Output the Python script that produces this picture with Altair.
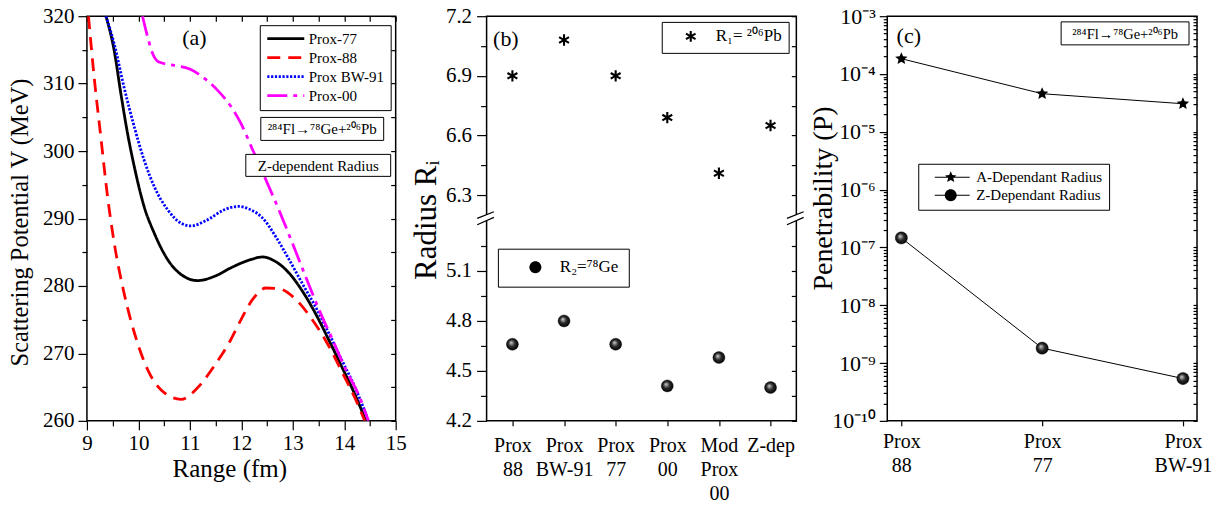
import json
import math
import altair as alt
import pandas as pd

FONT = "Liberation Serif"

# ---------------- data: panel (a) ----------------
series_a = ["Prox-77", "Prox-88", "Prox BW-91", "Prox-00"]
colors_a = ["black", "#ff0000", "#0000ff", "#ff00ff"]
dashes_a = [[1, 0], [13, 8], [2.2, 1.6], [20, 6, 4, 6]]

r_p77 = [9.37, 9.53, 9.66, 9.79, 9.92, 10.11, 10.31, 10.57, 10.83, 11.15, 11.47, 11.80,
         12.00, 12.22, 12.41, 12.67, 12.93, 13.19, 13.45, 13.70, 13.96, 14.22, 14.42]
v_p77 = [320, 314.9, 308.5, 302.6, 297.7, 291.8, 287.8, 283.9, 281.7, 280.8, 281.4, 282.7,
         283.4, 284.0, 284.3, 283.6, 281.9, 279.2, 275.8, 272.0, 267.9, 263.7, 260.0]

r_p88 = [9.03, 9.14, 9.27, 9.40, 9.53, 9.72, 9.92, 10.18, 10.50, 10.83, 11.15, 11.47,
         11.80, 11.98, 12.22, 12.48, 12.73, 13.06, 13.38, 13.70, 13.96, 14.22, 14.40]
v_p88 = [320, 311.0, 302.1, 293.3, 286.4, 279.0, 273.1, 267.6, 264.2, 263.2, 264.9, 268.1,
         272.1, 274.8, 278.0, 279.7, 279.6, 278.0, 275.0, 271.1, 267.2, 263.2, 260.0]

r_bw91 = [9.37, 9.53, 9.72, 9.92, 10.11, 10.31, 10.57, 10.83, 11.02, 11.34, 11.67, 11.95,
          12.15, 12.41, 12.67, 12.93, 13.19, 13.45, 13.70, 13.96, 14.22, 14.47]
v_bw91 = [320, 315.9, 309.5, 303.6, 298.7, 294.7, 291.3, 289.3, 288.9, 289.8, 291.3, 291.8,
          291.4, 290.1, 287.3, 283.9, 280.3, 276.8, 273.0, 268.9, 264.8, 260.0]

r_p00 = [10.08, 10.18, 10.28, 10.40, 10.70, 11.02, 11.21, 11.54, 11.80, 11.98, 12.22, 12.48,
         12.73, 12.99, 13.25, 13.51, 13.77, 14.03, 14.29, 14.47]
v_p00 = [320, 316.9, 314.4, 313.2, 312.7, 312.1, 311.2, 309.0, 306.6, 304.3, 300.2, 295.7,
         291.3, 286.4, 281.4, 276.5, 272.1, 267.6, 263.7, 260.0]

a_x_major = [9, 10, 11, 12, 13, 14, 15]
a_x_minor = [9.5, 10.5, 11.5, 12.5, 13.5, 14.5]
a_y_major = [260, 270, 280, 290, 300, 310, 320]
a_y_minor = [265, 275, 285, 295, 305, 315]
notes_a = ["²⁸⁴Fl→⁷⁸Ge+²⁰⁶Pb", "Z-dependent Radius"]
x_title_a = "Range (fm)"

# ---------------- data: panel (b) ----------------
methods_b = ["Prox|88", "Prox|BW-91", "Prox|77", "Prox|00", "Mod|Prox|00", "Z-dep"]
radius_pb = [6.90, 7.08, 6.90, 6.69, 6.41, 6.65]
radius_ge = [4.66, 4.80, 4.66, 4.41, 4.58, 4.40]
label_pb = "R₁= ²⁰⁶Pb"
label_ge = "R₂=⁷⁸Ge"
b_up_major = [6.3, 6.6, 6.9, 7.2]
b_up_minor = [6.45, 6.75, 7.05]
b_lo_major = [4.2, 4.5, 4.8, 5.1]
b_lo_minor = [4.35, 4.65, 4.95, 5.25]
b_lower_range = [4.2, 5.4]      # lower segment of the broken axis
b_upper_range = [6.2, 7.2]      # upper segment of the broken axis

# ---------------- data: panel (c) ----------------
methods_c = ["Prox|88", "Prox|77", "Prox|BW-91"]
pen_A = [1.84e-4, 4.56e-5, 3.06e-5]
pen_Z = [1.46e-7, 1.81e-9, 5.4e-10]
kinds_c = ["A-Dependant Radius", "Z-Dependant Radius"]
c_exponents = [-10, -9, -8, -7, -6, -5, -4, -3]
c_labels = ["10⁻¹⁰", "10⁻⁹", "10⁻⁸", "10⁻⁷", "10⁻⁶", "10⁻⁵", "10⁻⁴", "10⁻³"]
c_major = [10.0 ** e for e in c_exponents]
c_minor = [k * 10.0 ** e for e in c_exponents[:-1] for k in range(2, 10)]
note_c = "²⁸⁴Fl→⁷⁸Ge+²⁰⁶Pb"
panel_tags = ["(a)", "(b)", "(c)"]

# ---------------- geometry ----------------
W_A, W_B, W_C = 309, 310, 310
H = 405
LO_PX, GAP_PX, UP_PX = 200, 6, 199   # broken-axis segment heights (b)


# ---------------- broken axis mapping for (b) ----------------
def b_pos(v):
    lo0, lo1 = b_lower_range
    up0, up1 = b_upper_range
    if v < (lo1 + up0) / 2:
        return (v - lo0) / (lo1 - lo0) * LO_PX
    return LO_PX + GAP_PX + (v - up0) / (up1 - up0) * UP_PX


POS_EXPR = (
    f"datum.R < {(b_lower_range[1] + b_upper_range[0]) / 2} ? "
    f"(datum.R - {b_lower_range[0]}) / {b_lower_range[1] - b_lower_range[0]} * {LO_PX} : "
    f"{LO_PX + GAP_PX} + (datum.R - {b_upper_range[0]}) / {b_upper_range[1] - b_upper_range[0]} * {UP_PX}"
)
LABEL_EXPR_B = (
    f"datum.value > {LO_PX + GAP_PX / 2} ? "
    f"format((datum.value - {LO_PX + GAP_PX}) / {UP_PX} * {b_upper_range[1] - b_upper_range[0]} + {b_upper_range[0]}, '.1f') : "
    f"format(datum.value / {LO_PX} * {b_lower_range[1] - b_lower_range[0]} + {b_lower_range[0]}, '.1f')"
)


# ---------------- symbol paths ----------------
def star_path(cx=0.0, R=1.0, r=0.45):
    pts = []
    for i in range(10):
        ang = math.radians(-90 + 36 * i)
        rad = R if i % 2 == 0 else r
        pts.append((cx + rad * math.cos(ang), rad * math.sin(ang)))
    return "M" + "L".join(f"{x:.3f},{y:.3f}" for x, y in pts) + "Z"


def circle_path(cx=0.0):
    return f"M{cx-1:.3f},0A1,1 0 1,1 {cx+1:.3f},0A1,1 0 1,1 {cx-1:.3f},0Z"


def asterisk_path(cx=0.0):
    return (f"M{cx:.3f},-1L{cx:.3f},1M{cx-0.87:.3f},-0.5L{cx+0.87:.3f},0.5"
            f"M{cx-0.87:.3f},0.5L{cx+0.87:.3f},-0.5")


def bar_path(x0, x1, h=0.09):
    return f"M{x0},{-h}L{x1},{-h}L{x1},{h}L{x0},{h}Z"


sphere_fill = {
    "gradient": "radial", "x1": 0.38, "y1": 0.35, "r1": 0.0,
    "x2": 0.5, "y2": 0.5, "r2": 0.55,
    "stops": [{"offset": 0.0, "color": "#d8d8d8"},
              {"offset": 0.5, "color": "#2a2a2a"},
              {"offset": 1.0, "color": "#000000"}],
}


def tick_axis(values, orient, size, offset=0, domain=False):
    kw = dict(values=values, orient=orient, tickSize=size, labels=False,
              domain=domain, title=None, grid=False)
    if offset:
        kw["offset"] = offset
    return alt.Axis(**kw)


def value_text(text, x, y, size, align="center", baseline="alphabetic"):
    return alt.Chart(pd.DataFrame({"t": [text]})).mark_text(
        font=FONT, fontSize=size, align=align, baseline=baseline, color="black",
        fontWeight="normal"
    ).encode(text="t:N", x=alt.value(x), y=alt.value(y))


def value_box(x, x2, y, y2, stroke="black"):
    return alt.Chart(pd.DataFrame({"k": [0]})).mark_rect(
        fill="white", stroke=stroke, strokeWidth=1
    ).encode(x=alt.value(x), x2=alt.value(x2), y=alt.value(y), y2=alt.value(y2))


def value_rule(x, x2, y, y2):
    return alt.Chart(pd.DataFrame({"k": [0]})).mark_rule(
        color="black", strokeWidth=1.3
    ).encode(x=alt.value(x), x2=alt.value(x2), y=alt.value(y), y2=alt.value(y2))


# ================= panel (a) =================
rows = []
for name, rs, vs in [("Prox-77", r_p77, v_p77), ("Prox-88", r_p88, v_p88),
                     ("Prox BW-91", r_bw91, v_bw91), ("Prox-00", r_p00, v_p00)]:
    for r, v in zip(rs, vs):
        rows.append({"r": r, "v": v, "series": name})
df_a = pd.DataFrame(rows)

xs_a = alt.Scale(domain=[9, 15], nice=False, zero=False)
ys_a = alt.Scale(domain=[260, 320], nice=False, zero=False)

leg_a = alt.Legend(title=None, orient="none", legendX=173, legendY=9, direction="vertical",
                   symbolType="M-1,0L5.17,0", symbolSize=144, symbolStrokeWidth=2.8,
                   labelFont=FONT, labelFontSize=15, labelColor="black", labelOffset=28,
                   padding=6, rowPadding=3, strokeColor="black", fillColor="white")

lines_a = alt.Chart(df_a).mark_line(interpolate="monotone", strokeWidth=2.8, clip=True).encode(
    x=alt.X("r:Q", scale=xs_a, axis=alt.Axis(
        values=a_x_major, orient="bottom", tickSize=9, labelFontSize=21, labelPadding=3,
        format="d", domain=False, labelFlush=False, labelOverlap=False, title=None)),
    y=alt.Y("v:Q", scale=ys_a, axis=alt.Axis(
        values=a_y_major, orient="left", tickSize=9, labelFontSize=21, labelPadding=4,
        format="d", domain=False, labelFlush=False, labelOverlap=False,
        title="Scattering Potential V (MeV)", titleFontSize=24.5, titleFontWeight="normal",
        titleX=-59, titleY=206, titleAngle=270, titleAlign="center",
        titleBaseline="alphabetic")),
    color=alt.Color("series:N", scale=alt.Scale(domain=series_a, range=colors_a), legend=leg_a),
    strokeDash=alt.StrokeDash("series:N", scale=alt.Scale(domain=series_a, range=dashes_a),
                              legend=leg_a),
)
minor_a = alt.Chart(df_a).mark_point(opacity=0, size=0).encode(
    x=alt.X("r:Q", scale=xs_a, axis=tick_axis(a_x_minor, "bottom", 5)),
    y=alt.Y("v:Q", scale=ys_a, axis=tick_axis(a_y_minor, "left", 5)),
)
inward_a = alt.Chart(df_a).mark_point(opacity=0, size=0).encode(
    x=alt.X("r:Q", scale=xs_a, axis=tick_axis(a_x_major + a_x_minor, "bottom", 5, offset=-H)),
    y=alt.Y("v:Q", scale=ys_a, axis=tick_axis(a_y_major + a_y_minor, "left", 5, offset=-W_A)),
)
panel_a = alt.layer(
    lines_a, minor_a, inward_a,
    value_box(174, 297, 101.3, 124.3), value_text(notes_a[0], 235.5, 118, 15),
    value_box(159, 304, 138.3, 160.3), value_text(notes_a[1], 231.5, 154.5, 15),
    value_text(panel_tags[0], 107.5, 29.3, 22),
    value_text(x_title_a, 143, H + 56, 25),
).resolve_axis(x="independent", y="independent").properties(
    width=W_A, height=H, view=alt.ViewBackground(stroke="black", strokeWidth=1.5))

# ================= panel (b) =================
df_b = pd.DataFrame({
    "method": methods_b * 2,
    "R": radius_pb + radius_ge,
    "nuc": [label_pb] * len(methods_b) + [label_ge] * len(methods_b),
})
xs_b = alt.Scale(type="point", domain=methods_b, padding=0.5)
ys_b = alt.Scale(domain=[0, LO_PX + GAP_PX + UP_PX], nice=False, zero=False)
b_major_pos = [b_pos(v) for v in b_lo_major + b_up_major]
b_minor_pos = [b_pos(v) for v in b_lo_minor + b_up_minor]

base_b = alt.Chart(df_b).transform_calculate(pos=POS_EXPR)

pb_pts = base_b.transform_filter(f"datum.nuc == '{label_pb}'").mark_point(
    shape=asterisk_path(), size=130, filled=False, color="black", strokeWidth=2.1,
    opacity=1).encode(
    x=alt.X("method:N", scale=xs_b, axis=alt.Axis(
        orient="bottom", domain=False, tickSize=5, labelFontSize=20, labelAngle=0,
        labelExpr="split(datum.label, '|')", labelLineHeight=24, labelBaseline="top",
        labelPadding=10, labelOverlap=False, title=None)),
    y=alt.Y("pos:Q", scale=ys_b, axis=alt.Axis(
        values=b_major_pos, orient="left", tickSize=10, labelFontSize=21, labelPadding=5,
        labelExpr=LABEL_EXPR_B, domain=False, labelFlush=False, labelOverlap=False,
        title="Radius Rᵢ", titleFontSize=31, titleFontWeight="normal", titleX=-51,
        titleY=203.7, titleAngle=270, titleAlign="center", titleBaseline="alphabetic")),
)
ge_pts = base_b.transform_filter(f"datum.nuc == '{label_ge}'").mark_point(
    shape="circle", size=144, filled=True, fill=sphere_fill, stroke="black",
    strokeWidth=0.4, opacity=1).encode(
    x=alt.X("method:N", scale=xs_b, axis=None),
    y=alt.Y("pos:Q", scale=ys_b, axis=None),
)
minor_b = base_b.mark_point(opacity=0, size=0).encode(
    x=alt.X("method:N", scale=xs_b, axis=None),
    y=alt.Y("pos:Q", scale=ys_b, axis=tick_axis(b_minor_pos, "left", 6)),
)
right_b = base_b.mark_point(opacity=0, size=0).encode(
    x=alt.X("method:N", scale=xs_b, axis=None),
    y=alt.Y("pos:Q", scale=ys_b, axis=tick_axis(b_major_pos + b_minor_pos, "left", 5,
                                                offset=-W_B)),
)
leg_b1 = base_b.transform_filter("false").mark_point(
    filled=False, color="black", strokeWidth=2.1, opacity=1).encode(
    x=alt.X("method:N", scale=xs_b, axis=None),
    y=alt.Y("pos:Q", scale=ys_b, axis=None),
    shape=alt.Shape("nuc:N", scale=alt.Scale(domain=[label_pb], range=[asterisk_path(2.64)]),
                    legend=alt.Legend(title=None, orient="none", legendX=175.3, legendY=5.7,
                                      symbolSize=121, symbolStrokeWidth=2.1, symbolOpacity=1,
                                      symbolStrokeColor="black", labelFont=FONT,
                                      labelFontSize=17, labelColor="black", labelOffset=31,
                                      padding=6, strokeColor="black", fillColor="white")),
)
leg_b2 = base_b.transform_filter("false").mark_point(
    filled=True, fill="black", stroke="black", strokeWidth=1, opacity=1).encode(
    x=alt.X("method:N", scale=xs_b, axis=None),
    y=alt.Y("pos:Q", scale=ys_b, axis=None),
    shape=alt.Shape("nuc:N", scale=alt.Scale(domain=[label_ge], range=[circle_path(3.17)]),
                    legend=alt.Legend(title=None, orient="none", legendX=11.3, legendY=232.7,
                                      symbolSize=144, symbolFillColor="black",
                                      symbolStrokeColor="black", labelFont=FONT,
                                      labelFontSize=17, labelColor="black", labelOffset=35,
                                      padding=10, strokeColor="black", fillColor="white")),
)
gap_top = H - (LO_PX + GAP_PX)
gap_bot = H - LO_PX
panel_b = alt.layer(
    pb_pts, ge_pts, minor_b, right_b, leg_b1, leg_b2,
    value_box(-3, 3, gap_top + 0.5, gap_bot - 0.5, stroke="white"),
    value_box(W_B - 3, W_B + 3, gap_top + 0.5, gap_bot - 0.5, stroke="white"),
    value_rule(-9.4, 7.3, gap_top + 3.4, gap_top - 3.3),
    value_rule(-9.4, 7.3, gap_bot + 3.7, gap_bot - 3.6),
    value_rule(W_B - 9.4, W_B + 7.3, gap_top + 3.4, gap_top - 3.3),
    value_rule(W_B - 9.4, W_B + 7.3, gap_bot + 3.7, gap_bot - 3.6),
    value_text(panel_tags[1], 19.3, 29.7, 22),
).resolve_axis(x="independent", y="independent").resolve_scale(
    shape="independent").resolve_legend(shape="independent").properties(
    width=W_B, height=H, view=alt.ViewBackground(stroke="black", strokeWidth=1.5))

# ================= panel (c) =================
df_c = pd.DataFrame({
    "method": methods_c * 2,
    "P": pen_A + pen_Z,
    "kind": [kinds_c[0]] * len(methods_c) + [kinds_c[1]] * len(methods_c),
})
xs_c = alt.Scale(type="point", domain=methods_c, padding=0.1)
ys_c = alt.Scale(type="log", domain=[1e-10, 1e-3], nice=False)
label_expr_c = (json.dumps(c_labels, ensure_ascii=False)
                + "[round(log(datum.value) / LN10) + 10]")

lines_c = alt.Chart(df_c).mark_line(color="black", strokeWidth=1).encode(
    x=alt.X("method:N", scale=xs_c, axis=alt.Axis(
        orient="bottom", domain=False, tickSize=5, labelFontSize=20, labelAngle=0,
        labelExpr="split(datum.label, '|')", labelLineHeight=24, labelBaseline="top",
        labelPadding=6, labelOverlap=False, title=None)),
    y=alt.Y("P:Q", scale=ys_c, axis=alt.Axis(
        values=c_major, orient="left", tickSize=8, labelFontSize=22, labelPadding=4,
        labelExpr=label_expr_c, domain=False, labelFlush=False, labelOverlap=False,
        title="Penetrability (P)", titleFontSize=28, titleFontWeight="normal",
        titleX=-55.5, titleY=182, titleAngle=270, titleAlign="center",
        titleBaseline="alphabetic")),
    detail="kind:N",
)
stars_c = alt.Chart(df_c).transform_filter(f"datum.kind == '{kinds_c[0]}'").mark_point(
    shape=star_path(), size=170, filled=True, color="black", opacity=1).encode(
    x=alt.X("method:N", scale=xs_c, axis=None), y=alt.Y("P:Q", scale=ys_c, axis=None))
balls_c = alt.Chart(df_c).transform_filter(f"datum.kind == '{kinds_c[1]}'").mark_point(
    shape="circle", size=150, filled=True, fill=sphere_fill, stroke="black",
    strokeWidth=0.4, opacity=1).encode(
    x=alt.X("method:N", scale=xs_c, axis=None), y=alt.Y("P:Q", scale=ys_c, axis=None))
minor_c = alt.Chart(df_c).mark_point(opacity=0, size=0).encode(
    x=alt.X("method:N", scale=xs_c, axis=None),
    y=alt.Y("P:Q", scale=ys_c, axis=tick_axis(c_minor, "left", 4)),
)
right_c = alt.Chart(df_c).mark_point(opacity=0, size=0).encode(
    x=alt.X("method:N", scale=xs_c, axis=None),
    y=alt.Y("P:Q", scale=ys_c, axis=tick_axis(c_major + c_minor, "left", 4, offset=-W_C)),
)
star_line = bar_path(0.5, 6.33) + star_path(3.17)
ball_line = bar_path(0.5, 6.33) + circle_path(3.17)
leg_c = alt.Chart(df_c).transform_filter("false").mark_point(
    filled=True, fill="black", stroke="black", strokeWidth=1, opacity=1).encode(
    x=alt.X("method:N", scale=xs_c, axis=None),
    y=alt.Y("P:Q", scale=ys_c, axis=None),
    shape=alt.Shape("kind:N", scale=alt.Scale(domain=kinds_c, range=[star_line, ball_line]),
                    legend=alt.Legend(title=None, orient="none", legendX=31, legendY=147.7,
                                      direction="vertical", symbolSize=144,
                                      symbolFillColor="black", symbolStrokeColor="black",
                                      symbolStrokeWidth=1, symbolOpacity=1, labelFont=FONT,
                                      labelFontSize=15, labelColor="black", labelOffset=37,
                                      padding=6, rowPadding=1, strokeColor="black",
                                      fillColor="white")),
)
panel_c = alt.layer(
    lines_c, stars_c, balls_c, minor_c, right_c, leg_c,
    value_box(174, 302, 5.7, 28.7), value_text(note_c, 238, 22.5, 14.5),
    value_text(panel_tags[2], 21.5, 26.7, 22),
).resolve_axis(x="independent", y="independent").properties(
    width=W_C, height=H, view=alt.ViewBackground(stroke="black", strokeWidth=1.5))

# ================= assemble =================
chart = alt.hconcat(panel_a, panel_b, panel_c, spacing=91, bounds="flush").resolve_scale(
    x="independent", y="independent", color="independent", strokeDash="independent",
    shape="independent").resolve_legend(
    color="independent", strokeDash="independent", shape="independent"
).configure(
    font=FONT, padding={"left": 7, "top": 4, "right": 4, "bottom": 0}
).configure_view(strokeWidth=0).configure_axis(
    grid=False, labelFont=FONT, titleFont=FONT, labelColor="black", titleColor="black",
    tickColor="black", domainColor="black", tickWidth=1.2, domainWidth=1.5,
    titleFontWeight="normal"
).configure_legend(labelFont=FONT, labelColor="black")

chart.save("out.html", embed_options={"renderer": "svg", "actions": False})
